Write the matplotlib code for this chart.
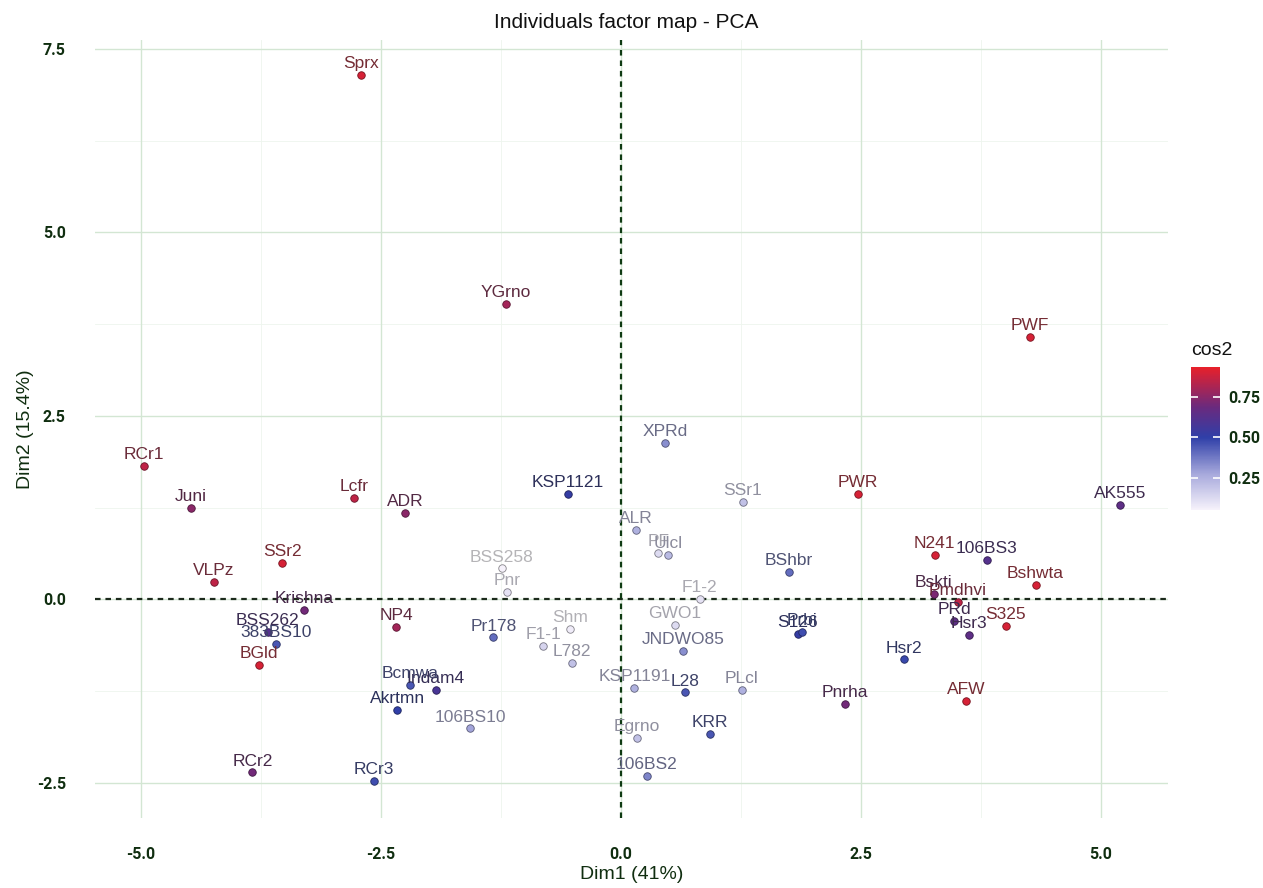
import numpy as np
import matplotlib
matplotlib.use("Agg")
import matplotlib.pyplot as plt
from matplotlib.colors import LinearSegmentedColormap, Normalize, to_rgb
from matplotlib.cm import ScalarMappable

plt.rcParams['font.family'] = ['Liberation Sans', 'DejaVu Sans']

# PCA individuals: label, Dim1, Dim2, cos2
names = ["Sprx", "YGrno", "PWF", "RCr1", "Juni", "Lcfr", "ADR", "KSP1121", "XPRd", "SSr1",
         "PWR", "AK555", "ALR", "PF", "Ulcl", "BSS258", "Pnr", "F1-2", "GWO1", "JNDWO85",
         "Pr178", "F1-1", "Shm", "L782", "KSP1191", "L28", "PLcl", "Egrno", "KRR", "106BS2",
         "106BS10", "Indam4", "Bcmwa", "Akrtmn", "NP4", "Krishna", "VLPz", "SSr2", "BSS262", "383BS10",
         "BGld", "RCr2", "RCr3", "BShbr", "S126", "Prbi", "Hsr2", "Pnrha", "AFW", "N241",
         "106BS3", "Bshwta", "Bskti", "Pmdhvi", "PRd", "Hsr3", "S325"]
dim1 = [-2.71, -1.20, 4.26, -4.97, -4.48, -2.78, -2.25, -0.55, 0.46, 1.27,
        2.47, 5.20, 0.16, 0.39, 0.49, -1.24, -1.19, 0.82, 0.56, 0.65,
        -1.33, -0.81, -0.53, -0.51, 0.14, 0.67, 1.26, 0.17, 0.93, 0.27,
        -1.57, -1.93, -2.20, -2.33, -2.34, -3.30, -4.24, -3.53, -3.68, -3.59,
        -3.77, -3.84, -2.57, 1.75, 1.84, 1.89, 2.95, 2.33, 3.60, 3.27,
        3.81, 4.32, 3.26, 3.51, 3.47, 3.63, 4.01]
dim2 = [7.14, 4.02, 3.57, 1.81, 1.24, 1.38, 1.17, 1.44, 2.13, 1.32,
        1.43, 1.28, 0.94, 0.63, 0.61, 0.42, 0.10, 0.00, -0.35, -0.71,
        -0.52, -0.63, -0.40, -0.87, -1.21, -1.27, -1.23, -1.89, -1.84, -2.41,
        -1.76, -1.23, -1.17, -1.51, -0.38, -0.14, 0.23, 0.49, -0.45, -0.61,
        -0.90, -2.36, -2.48, 0.37, -0.47, -0.45, -0.82, -1.43, -1.39, 0.61,
        0.54, 0.20, 0.07, -0.04, -0.30, -0.49, -0.37]
cos2 = [0.90, 0.80, 0.90, 0.85, 0.75, 0.85, 0.75, 0.52, 0.33, 0.20,
        0.90, 0.65, 0.25, 0.12, 0.22, 0.05, 0.10, 0.10, 0.12, 0.33,
        0.40, 0.14, 0.07, 0.20, 0.25, 0.45, 0.25, 0.20, 0.45, 0.35,
        0.28, 0.58, 0.45, 0.50, 0.80, 0.70, 0.85, 0.90, 0.62, 0.45,
        0.90, 0.70, 0.47, 0.40, 0.52, 0.47, 0.48, 0.70, 0.90, 0.90,
        0.62, 0.90, 0.72, 0.85, 0.65, 0.65, 0.90]

cmin, cmax = 0.05, 0.935
cmap = LinearSegmentedColormap.from_list(
    "cos2", [(0.0, "#f6f2fb"), (0.25, "#a7a9dc"), (0.508, "#2f3fa8"),
             (0.72, "#6a2a7e"), (1.0, "#e8202a")])
norm = Normalize(cmin, cmax)

grid_col = "#d3e6d3"
minor_col = "#eef5ee"
txt_green = "#102e10"
tick_font = ["Roboto", "DejaVu Sans"]


def label_color(c):
    r, g, b = to_rgb(c)
    lum = 0.3 * r + 0.59 * g + 0.11 * b
    mix = [0.55 * v + 0.45 * lum for v in (r, g, b)]
    return tuple(v * 0.74 for v in mix)


fig = plt.figure(figsize=(12.63, 8.88), dpi=100)
ax = fig.add_axes([95 / 1263, 70 / 888, 1073 / 1263, 778 / 888])
ax.set_xlim(-5.48, 5.70)
ax.set_ylim(-2.98, 7.62)

for v in [-3.75, -1.25, 1.25, 3.75]:
    ax.axvline(v, color=minor_col, lw=0.6, zorder=0)
for v in [-1.25, 1.25, 3.75, 6.25]:
    ax.axhline(v, color=minor_col, lw=0.6, zorder=0)
xt = [-5.0, -2.5, 0.0, 2.5, 5.0]
yt = [-2.5, 0.0, 2.5, 5.0, 7.5]
for v in xt:
    ax.axvline(v, color=grid_col, lw=1.0, zorder=0)
for v in yt:
    ax.axhline(v, color=grid_col, lw=1.0, zorder=0)

ax.axhline(0, color="#1c2a1c", lw=1.6, ls=(0, (2.5, 2.2)), zorder=1)
ax.axvline(0, color="#0e3a12", lw=1.6, ls=(0, (2.5, 2.2)), zorder=1)

cols = cmap(norm(np.array(cos2)))
for n, x, y, c in zip(names, dim1, dim2, cols):
    ax.plot(x, y, 'o', ms=5.4, color=c, mec=tuple(v * 0.55 for v in c[:3]), mew=0.6, zorder=3)
    ax.annotate(n, (x, y), xytext=(0, 5), textcoords="offset points",
                ha="center", va="baseline", fontsize=12.5, color=label_color(c), zorder=4)

for s in ax.spines.values():
    s.set_visible(False)
ax.set_xticks(xt)
ax.set_yticks(yt)
ax.set_xticklabels([f"{v:.1f}" for v in xt])
ax.set_yticklabels([f"{v:.1f}" for v in yt])
ax.tick_params(length=0, labelsize=11.5, labelcolor=txt_green, pad=21)
for t in ax.get_xticklabels() + ax.get_yticklabels():
    t.set_fontweight("bold")
    t.set_fontfamily(tick_font)
ax.set_xlabel("Dim1 (41%)", fontsize=14, color=txt_green, labelpad=3)
ax.set_ylabel("Dim2 (15.4%)", fontsize=14, color=txt_green, labelpad=2)
fig.text(626 / 1263, 1 - 22 / 888, "Individuals factor map - PCA", ha="center", va="center",
         fontsize=15, color="#111111")

# colour bar
cax = fig.add_axes([1191 / 1263, (888 - 510) / 888, 29 / 1263, 143 / 888])
cb = fig.colorbar(ScalarMappable(norm=norm, cmap=cmap), cax=cax, ticks=[0.25, 0.5, 0.75])
cb.outline.set_visible(False)
cax.tick_params(direction="in", length=5, width=1.2, color="white", left=True, right=True,
                labelsize=11.5, labelcolor=txt_green, pad=6)
cax.set_yticklabels(["0.25", "0.50", "0.75"])
for t in cax.get_yticklabels():
    t.set_fontweight("bold")
    t.set_fontfamily(tick_font)
fig.text(1191 / 1263, 1 - 350 / 888, "cos2", ha="left", va="center", fontsize=14, color="#111111")

fig.savefig("out.png", dpi=100)
